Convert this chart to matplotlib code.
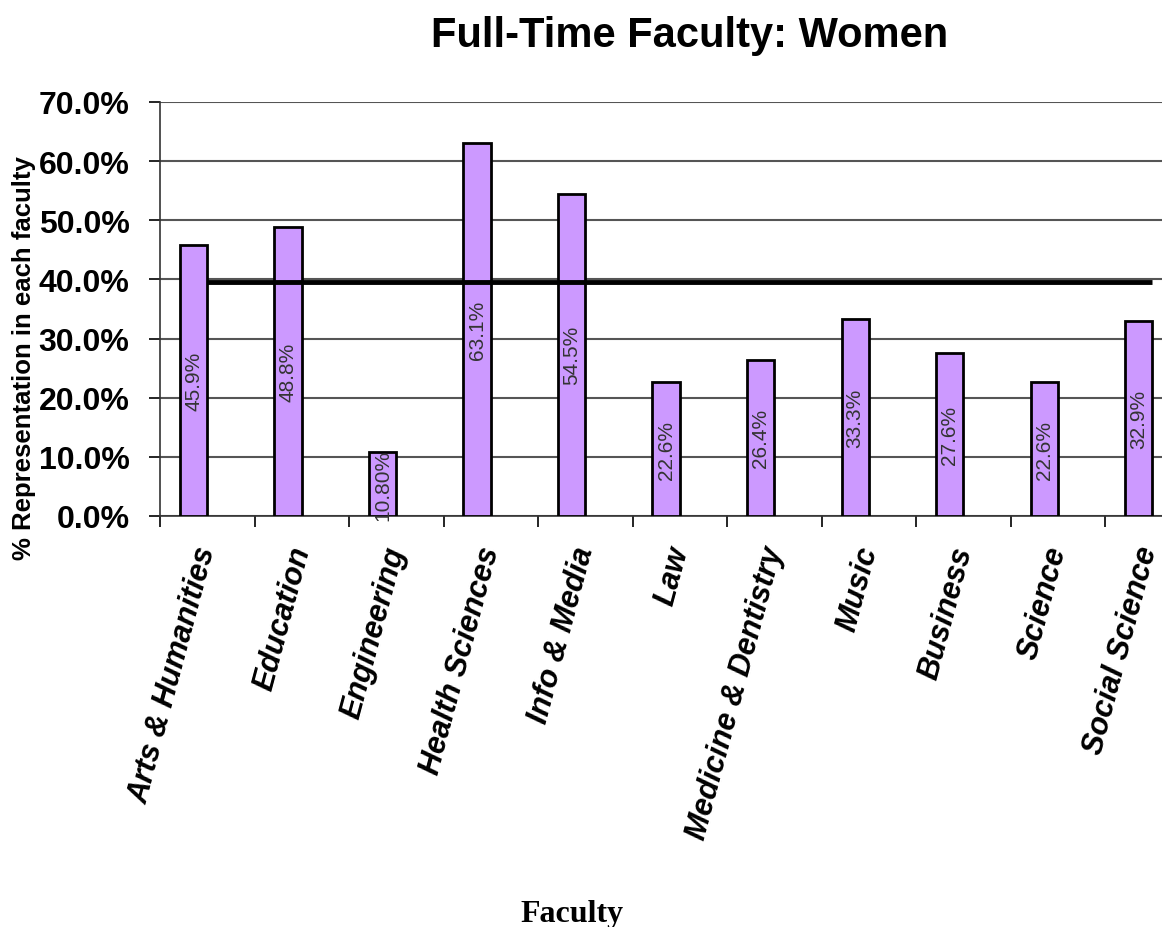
import matplotlib
matplotlib.use("Agg")
import matplotlib.pyplot as plt
import matplotlib.transforms as mtransforms
from matplotlib.ticker import FuncFormatter, MultipleLocator

categories = ["Arts & Humanities", "Education", "Engineering", "Health Sciences",
              "Info & Media", "Law", "Medicine & Dentistry", "Music", "Business",
              "Science", "Social Science"]
values = [45.9, 48.8, 10.8, 63.1, 54.5, 22.6, 26.4, 33.3, 27.6, 22.6, 32.9]
value_labels = ["45.9%", "48.8%", "10.80%", "63.1%", "54.5%", "22.6%", "26.4%",
                "33.3%", "27.6%", "22.6%", "32.9%"]
benchmark = [39.6] * len(categories)

plt.rcParams['font.family'] = ['Liberation Sans', 'DejaVu Sans']

fig = plt.figure(figsize=(11.62, 9.28), dpi=100)
ax = fig.add_axes([160/1162, 1 - 517/928, 1 - 160/1162, (517 - 103)/928])

x = list(range(len(categories)))
bw = 0.29
ax.bar([i - bw for i in x], values, width=bw, align='edge',
       color='#CC99FF', edgecolor='black', linewidth=2, zorder=3)
ax.plot(x, benchmark, color='black', linewidth=3.5, zorder=4, solid_capstyle='butt')

for i, (v, lab) in enumerate(zip(values, value_labels)):
    ax.text(i - bw/2, v/2, lab, rotation=90, ha='center', va='center',
            fontsize=15, color='#333333', zorder=5)

ax.set_ylim(0, 70)
ax.set_xlim(-0.5, 10 + (1162 - 1152.5)/94.5)
ax.yaxis.set_major_locator(MultipleLocator(10))
ax.yaxis.set_major_formatter(FuncFormatter(lambda v, p: f"{v:.1f}%"))
ax.grid(axis='y', color='#555555', linewidth=1.5, zorder=0)
ax.set_axisbelow(True)

ax.set_xticks([i - 0.5 for i in x])
ax.set_xticklabels([])
ax.set_xticks(x, minor=True)
ax.set_xticklabels(categories, minor=True, rotation=75, rotation_mode='anchor',
                   ha='right', va='center', fontsize=22, fontweight='bold',
                   fontstyle='italic')
ax.tick_params(axis='x', which='minor', length=0, pad=22)
ax.tick_params(axis='x', which='major', length=8, width=1.2, direction='out')
ax.tick_params(axis='y', length=8, width=1.2, direction='out', labelsize=23, pad=14)
for t in ax.get_yticklabels():
    t.set_fontweight('bold')

# nudge the last category label slightly left so it stays inside the figure
last = ax.get_xticklabels(minor=True)[-1]
last.set_transform(last.get_transform() +
                   mtransforms.ScaledTranslation(-4/100, 0, fig.dpi_scale_trans))

for s in ['top', 'right']:
    ax.spines[s].set_visible(False)
ax.spines['left'].set_color('#333333')
ax.spines['bottom'].set_color('#333333')
ax.spines['left'].set_linewidth(1.2)
ax.spines['bottom'].set_linewidth(1.2)

fig.text(24/1162, 1 - 358/928, "% Representation in each faculty", rotation=90,
         ha='center', va='center', fontsize=18.5, fontweight='bold')
fig.text(690/1162, 1 - 36/928, "Full-Time Faculty: Women", ha='center', va='center',
         fontsize=30, fontweight='bold')
fig.text(572/1162, 1 - 922/928, "Faculty", ha='center', va='baseline', fontsize=23,
         fontweight='bold', family=['Liberation Serif', 'DejaVu Serif'])

fig.savefig("out.png", dpi=100)
